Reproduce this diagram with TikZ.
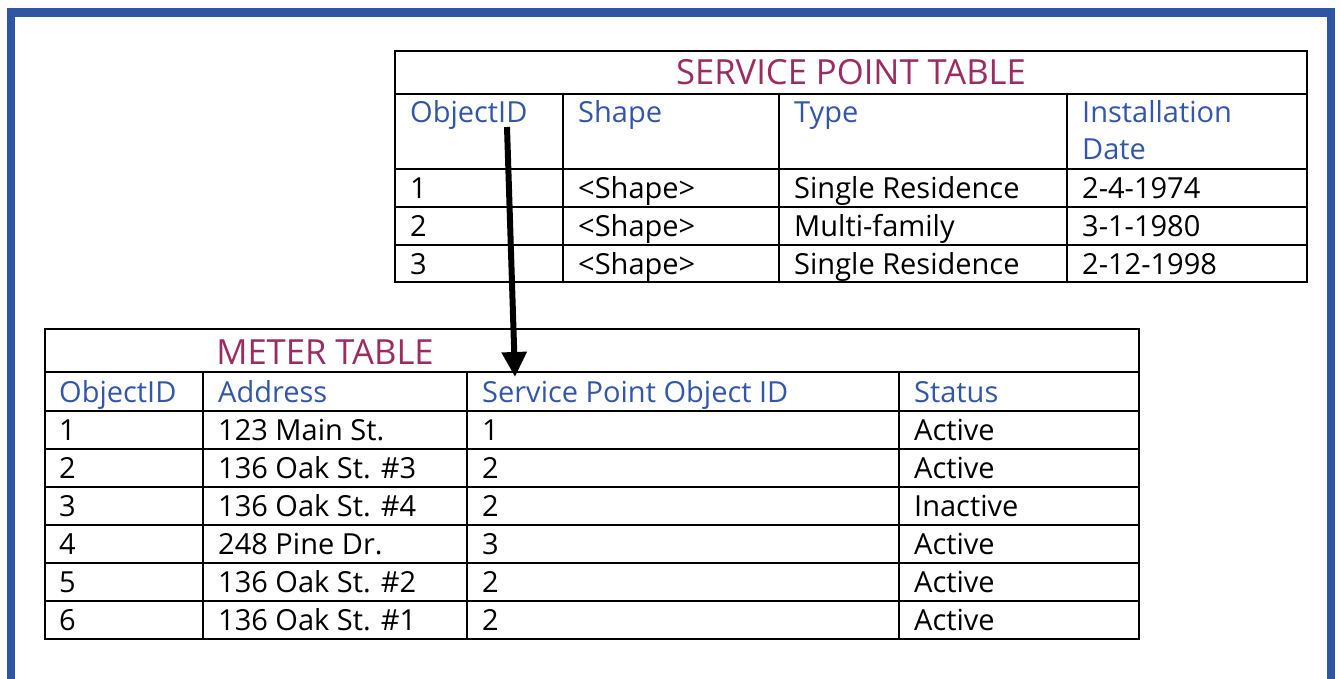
\documentclass[tikz,border=0pt]{standalone}
\usepackage{fontspec}
\setmainfont{Open Sans}
\usetikzlibrary{arrows.meta}
\definecolor{frameblue}{HTML}{2F55A5}
\definecolor{hdrblue}{HTML}{3356A8}
\definecolor{titlered}{HTML}{9B2C62}
\begin{document}
\begin{tikzpicture}[x=1pt,y=-1pt,
 grid/.style={line width=2pt, line cap=rect},
 cell/.style={anchor=base west, inner sep=0pt, font=\fontsize{29}{35}\selectfont},
 hdr/.style={cell, text=hdrblue},
 ttl/.style={anchor=base, inner sep=0pt, text=titlered, font=\fontsize{34.6}{40}\selectfont},
 link/.style={line width=6pt, -{Triangle[length=25pt,width=24pt]}}]
\useasboundingbox (0,0) rectangle (1340,679);
% frame
\fill[frameblue] (7,8) rectangle (1335,17);
\fill[frameblue] (7,8) rectangle (15,679);
\fill[frameblue] (1327,8) rectangle (1335,679);
% service point table grid
\draw[grid] (395,51) rectangle (1307,282);
\foreach \y in {94,169,207,245} \draw[grid] (395,\y) -- (1307,\y);
\foreach \x in {563,779,1067} \draw[grid] (\x,94) -- (\x,282);
\node[ttl] (sptitle) at (851,85) {SERVICE POINT TABLE};
\node[hdr] (spoid) at (410,123) {ObjectID};
\node[hdr] (spshape) at (578,123) {Shape};
\node[hdr] (sptype) at (794,123) {Type};
\node[hdr] (spinst) at (1082,123) {Installation};
\node[hdr] (spdate) at (1082,160) {Date};
\node[cell] (sp11) at (410,198) {1};
\node[cell] (sp12) at (578,198) {<Shape>};
\node[cell] (sp13) at (794,198) {Single Residence};
\node[cell] (sp14) at (1082,198) {2-4-1974};
\node[cell] (sp21) at (410,236) {2};
\node[cell] (sp22) at (578,236) {<Shape>};
\node[cell] (sp23) at (794,236) {Multi-family};
\node[cell] (sp24) at (1082,236) {3-1-1980};
\node[cell] (sp31) at (410,274) {3};
\node[cell] (sp32) at (578,274) {<Shape>};
\node[cell] (sp33) at (794,274) {Single Residence};
\node[cell] (sp34) at (1082,274) {2-12-1998};
% meter table grid
\draw[grid] (45,329) rectangle (1139,639);
\foreach \y in {372,411,449,487,525,563,601} \draw[grid] (45,\y) -- (1139,\y);
\foreach \x in {203,467,899} \draw[grid] (\x,372) -- (\x,639);
\node[ttl] (mtitle) at (325,364) {METER TABLE};
\node[hdr] (moid) at (59,402) {ObjectID};
\node[hdr] (maddr) at (218,402) {Address};
\node[hdr] (mspid) at (482,402) {Service Point Object ID};
\node[hdr] (mstat) at (914,402) {Status};
\foreach \y/\a/\b/\c/\d [count=\i] in {440/1/123 Main St./1/Active,478/2/136 Oak St. \#3/2/Active,516/3/136 Oak St. \#4/2/Inactive,554/4/248 Pine Dr./3/Active,592/5/136 Oak St. \#2/2/Active,630/6/136 Oak St. \#1/2/Active}{
 \node[cell] (m\i a) at (59,\y) {\a};
 \node[cell] (m\i b) at (218,\y) {\b};
 \node[cell] (m\i c) at (482,\y) {\c};
 \node[cell] (m\i d) at (914,\y) {\d};
}
% arrow
\coordinate (src) at (507,127);
\coordinate (dst) at (515,377);
\draw[link] (src) -- (dst);
\end{tikzpicture}
\end{document}
